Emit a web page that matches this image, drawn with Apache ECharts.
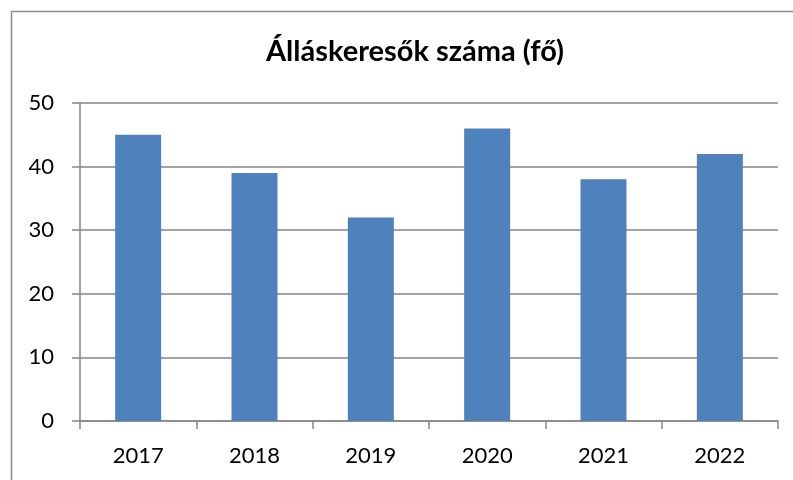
<!DOCTYPE html>
<html>
<head>
<meta charset="utf-8">
<script src="https://cdn.jsdelivr.net/npm/echarts@6/dist/echarts.min.js"></script>
<style>
  html, body { margin: 0; padding: 0; background: #fff; }
  #chart { width: 793px; height: 480px; }
</style>
</head>
<body>
<div id="chart"></div>
<script>
var years = ['2017', '2018', '2019', '2020', '2021', '2022'];
var jobseekers = [45, 39, 32, 46, 38, 42];
var yTicks = { min: 0, max: 50, step: 10 };

var chart = echarts.init(document.getElementById('chart'));
chart.setOption({
  animation: false,
  backgroundColor: '#fff',
  title: {
    text: 'Álláskeresők száma (fő)',
    left: 410,
    top: 32,
    textAlign: 'center',
    textStyle: { fontFamily: 'Lato', fontWeight: 'bold', fontSize: 29, color: '#000' }
  },
  graphic: [{
    type: 'rect',
    shape: { x: 11.5, y: 11.5, width: 820, height: 520 },
    style: { fill: 'none', stroke: '#8c8c8c', lineWidth: 1.5 }
  }],
  grid: { left: 80, right: 15, top: 103, bottom: 59 },
  xAxis: {
    type: 'category',
    data: years,
    axisLine: { lineStyle: { color: '#868686', width: 1.5 } },
    axisTick: { show: true, length: 8, lineStyle: { color: '#868686', width: 1.5 } },
    axisLabel: { color: '#000', fontFamily: 'Lato', fontSize: 22, margin: 24 }
  },
  yAxis: {
    type: 'value',
    min: yTicks.min,
    max: yTicks.max,
    interval: yTicks.step,
    axisLine: { show: true, lineStyle: { color: '#868686', width: 1.5 } },
    axisTick: { show: true, length: 8, lineStyle: { color: '#868686', width: 1.5 } },
    axisLabel: { color: '#000', fontFamily: 'Lato', fontSize: 22, margin: 26 },
    splitLine: { lineStyle: { color: '#868686', width: 1.5 } }
  },
  series: [{
    type: 'bar',
    data: jobseekers,
    barWidth: 46,
    itemStyle: { color: '#4f81bd' }
  }]
});
</script>
</body>
</html>
